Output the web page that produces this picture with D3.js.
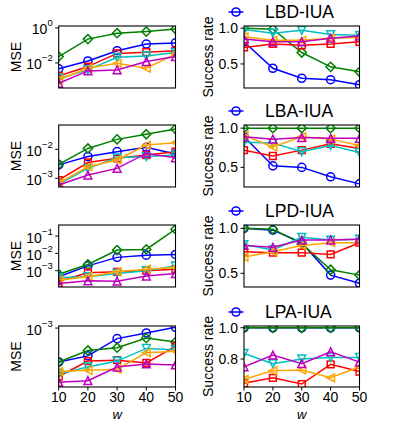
<!DOCTYPE html>
<html>
<head>
<meta charset="utf-8">
<script src="https://cdn.jsdelivr.net/npm/d3@7"></script>
<style>
  body { margin: 0; background: #fff; }
  text { font-family: "Liberation Sans", Arial, sans-serif; fill: #000; }
</style>
</head>
<body>
<div id="chart"></div>
<script>
// x values (window size w)
const wValues = [10, 20, 30, 40, 50];
const methods = ["LBD-IUA", "LBA-IUA", "LPD-IUA", "LPA-IUA"];

// series order: blue, green, red, cyan, orange, magenta
const mseLBD = [
  [0.0046, 0.013, 0.050, 0.12, 0.14],
  [0.023, 0.23, 0.50, 0.62, 0.87],
  [0.0018, 0.0062, 0.035, 0.041, 0.050],
  [0.0013, 0.0040, 0.021, 0.025, 0.039],
  [0.0011, 0.0050, 0.0095, 0.0050, 0.032],
  [0.00069, 0.0035, 0.0040, 0.012, 0.023]
];
const mseLBA = [
  [0.0029, 0.0056, 0.0083, 0.0117, 0.0069],
  [0.0030, 0.0107, 0.022, 0.033, 0.050],
  [0.00087, 0.0035, 0.0049, 0.0063, 0.0083],
  [0.00063, 0.0022, 0.0051, 0.0056, 0.0063],
  [0.00068, 0.0025, 0.0043, 0.014, 0.017],
  [0.00059, 0.0013, 0.0022, 0.0072, 0.0051]
];
const mseLPD = [
  [0.00045, 0.0019, 0.0059, 0.0079, 0.0087],
  [0.00063, 0.0023, 0.0155, 0.017, 0.25],
  [0.00025, 0.00076, 0.00087, 0.0010, 0.00123],
  [0.00040, 0.00045, 0.00069, 0.0010, 0.0019],
  [0.00029, 0.00045, 0.00087, 0.00123, 0.00155],
  [0.000186, 0.00026, 0.00025, 0.00049, 0.00069]
];
const mseLPA = [
  [0.00045, 0.00052, 0.00078, 0.00089, 0.00102],
  [0.00045, 0.00059, 0.00063, 0.00079, 0.00072],
  [0.00032, 0.00046, 0.00047, 0.00044, 0.00065],
  [0.00034, 0.00040, 0.00046, 0.00062, 0.00060],
  [0.00036, 0.00037, 0.00038, 0.00056, 0.00058],
  [0.00028, 0.00029, 0.00040, 0.00043, 0.00042]
];

const srLBD = [
  [0.81, 0.44, 0.30, 0.28, 0.21],
  [1.0, 0.985, 0.66, 0.46, 0.39],
  [0.73, 0.78, 0.76, 0.78, 0.81],
  [0.98, 0.93, 0.97, 0.91, 0.90],
  [0.88, 0.83, 0.83, 0.86, 0.87],
  [0.85, 0.81, 0.81, 0.86, 0.89]
];
const srLBA = [
  [0.89, 0.52, 0.50, 0.38, 0.29],
  [1.0, 1.0, 1.0, 1.0, 1.0],
  [0.72, 0.645, 0.72, 0.80, 0.74],
  [0.82, 0.81, 0.70, 0.78, 0.69],
  [0.91, 0.76, 0.89, 0.86, 0.78],
  [0.89, 0.86, 0.88, 0.87, 0.87]
];
const srLPD = [
  [1.0, 0.98, 0.84, 0.48, 0.39],
  [1.0, 0.99, 0.83, 0.54, 0.48],
  [0.74, 0.73, 0.73, 0.71, 0.84],
  [0.82, 0.76, 0.90, 0.87, 0.88],
  [0.68, 0.74, 0.81, 0.84, 0.84],
  [0.81, 0.79, 0.87, 0.87, 0.88]
];
const srLPA = [
  [1.0, 1.0, 1.0, 1.0, 1.0],
  [1.0, 1.0, 1.0, 1.0, 1.0],
  [0.645, 0.68, 0.64, 0.766, 0.72],
  [0.836, 0.77, 0.80, 0.81, 0.81],
  [0.67, 0.725, 0.73, 0.68, 0.75],
  [0.75, 0.825, 0.77, 0.846, 0.78]
];

// axis limits and tick labels
const mseDomains = [[0.00037, 1.29], [0.0005, 0.069], [0.000115, 0.436], [0.00025, 0.00105]];
const mseTicks = [[0, -2], [-2, -3], [-1, -2, -3], [-3]];
const srDomains = [[0.164, 1.03], [0.25, 1.04], [0.348, 1.037], [0.621, 1.011]];
const srTicks = [[1.0, 0.5], [1.0, 0.5], [1.0, 0.5], [1.0, 0.8]];

const styles = [
  {color: "#0000ff", marker: "o"},
  {color: "#008000", marker: "D"},
  {color: "#ff0000", marker: "s"},
  {color: "#00bfbf", marker: "v"},
  {color: "#ffa500", marker: "<"},
  {color: "#bf00bf", marker: "^"}
];

const mseData = [mseLBD, mseLBA, mseLPD, mseLPA];
const srData = [srLBD, srLBA, srLPD, srLPA];

const width = 399, height = 426;
const rowTop = [26, 125, 225, 326], rowBottom = [88, 187, 287, 387];
const leftX = [58.7, 175.5], rightX = [244, 359.5];

const svg = d3.select("#chart").append("svg")
  .attr("width", width).attr("height", height);

function markerPath(m) {
  const s = 3.9;
  if (m === "o") return d3.symbol().type(d3.symbolCircle).size(52)();
  if (m === "s") return d3.symbol().type(d3.symbolSquare).size(46)();
  if (m === "D") return "M0,-4.6L4.6,0L0,4.6L-4.6,0Z";
  if (m === "^") return `M0,${-s}L${s},${s}L${-s},${s}Z`;
  if (m === "v") return `M0,${s}L${s},${-s}L${-s},${-s}Z`;
  if (m === "<") return `M${-s},0L${s},${-s}L${s},${s}Z`;
}

function panel(id, xr, top, bottom, y, series, tickVals, yLabel, labelX, isLog) {
  const x = d3.scaleLinear().domain([10, 50]).range(xr);
  y.range([bottom, top]);
  const g = svg.append("g");

  g.append("clipPath").attr("id", id)
    .append("rect").attr("x", xr[0]).attr("y", top)
    .attr("width", xr[1] - xr[0]).attr("height", bottom - top);

  const plot = g.append("g").attr("clip-path", `url(#${id})`);
  const line = d3.line().x((d, i) => x(wValues[i])).y(d => y(d));

  series.forEach((vals, k) => {
    const st = styles[k];
    plot.append("path").datum(vals)
      .attr("d", line).attr("fill", "none")
      .attr("stroke", st.color).attr("stroke-width", 1.5);
    plot.selectAll(null).data(vals).join("path")
      .attr("transform", (d, i) => `translate(${x(wValues[i])},${y(d)})`)
      .attr("d", markerPath(st.marker))
      .attr("fill", "none").attr("stroke", st.color).attr("stroke-width", 1.5);
  });

  g.append("rect").attr("x", xr[0]).attr("y", top)
    .attr("width", xr[1] - xr[0]).attr("height", bottom - top)
    .attr("fill", "none").attr("stroke", "#000").attr("stroke-width", 1.1);

  // y ticks
  tickVals.forEach(v => {
    const yy = y(v);
    g.append("line").attr("x1", xr[0] - 3.5).attr("x2", xr[0])
      .attr("y1", yy).attr("y2", yy).attr("stroke", "#000");
    if (isLog) {
      const t = g.append("text").attr("x", xr[0] - 6).attr("y", yy + 6.5)
        .attr("text-anchor", "end").attr("font-size", 14);
      t.append("tspan").text("10");
      const e = Math.round(Math.log10(v));
      t.append("tspan").attr("dy", -8).attr("font-size", 9.5)
        .text(e < 0 ? "\u2212" + (-e) : String(e));
    } else {
      g.append("text").attr("x", xr[0] - 6).attr("y", yy + 5)
        .attr("text-anchor", "end").attr("font-size", 14)
        .text(d3.format(".1f")(v));
    }
  });

  g.append("text")
    .attr("transform", `translate(${labelX},${(top + bottom) / 2}) rotate(-90)`)
    .attr("text-anchor", "middle").attr("font-size", 14)
    .text(yLabel);
  return x;
}

for (let r = 0; r < 4; r++) {
  const yl = d3.scaleLog().domain(mseDomains[r]);
  const logTicks = mseTicks[r].map(e => Number("1e" + e));
  const xl = panel("cl" + r, leftX, rowTop[r], rowBottom[r], yl, mseData[r], logTicks, "MSE", 20.5, true);

  const yr = d3.scaleLinear().domain(srDomains[r]);
  const xr = panel("cr" + r, rightX, rowTop[r], rowBottom[r], yr, srData[r], srTicks[r], "Success rate", 213, false);

  // legend
  const ly = rowTop[r] - 14;
  svg.append("line").attr("x1", 228.5).attr("x2", 243.5).attr("y1", ly).attr("y2", ly)
    .attr("stroke", styles[0].color).attr("stroke-width", 1.5);
  svg.append("path").attr("transform", `translate(236,${ly})`)
    .attr("d", markerPath("o")).attr("fill", "none")
    .attr("stroke", styles[0].color).attr("stroke-width", 1.5);
  svg.append("text").attr("x", 265).attr("y", ly + 6.3)
    .attr("font-size", 17.5).text(methods[r]);

  if (r === 3) {
    [[xl, leftX], [xr, rightX]].forEach(([xs, rng]) => {
      wValues.forEach(w => {
        svg.append("line").attr("x1", xs(w)).attr("x2", xs(w))
          .attr("y1", rowBottom[r]).attr("y2", rowBottom[r] + 3.5).attr("stroke", "#000");
        svg.append("text").attr("x", xs(w)).attr("y", rowBottom[r] + 15)
          .attr("text-anchor", "middle").attr("font-size", 14).text(w);
      });
      svg.append("text").attr("x", (rng[0] + rng[1]) / 2).attr("y", rowBottom[r] + 31.5)
        .attr("text-anchor", "middle").attr("font-size", 13)
        .attr("font-style", "italic").text("w");
    });
  }
}
</script>
</body>
</html>
